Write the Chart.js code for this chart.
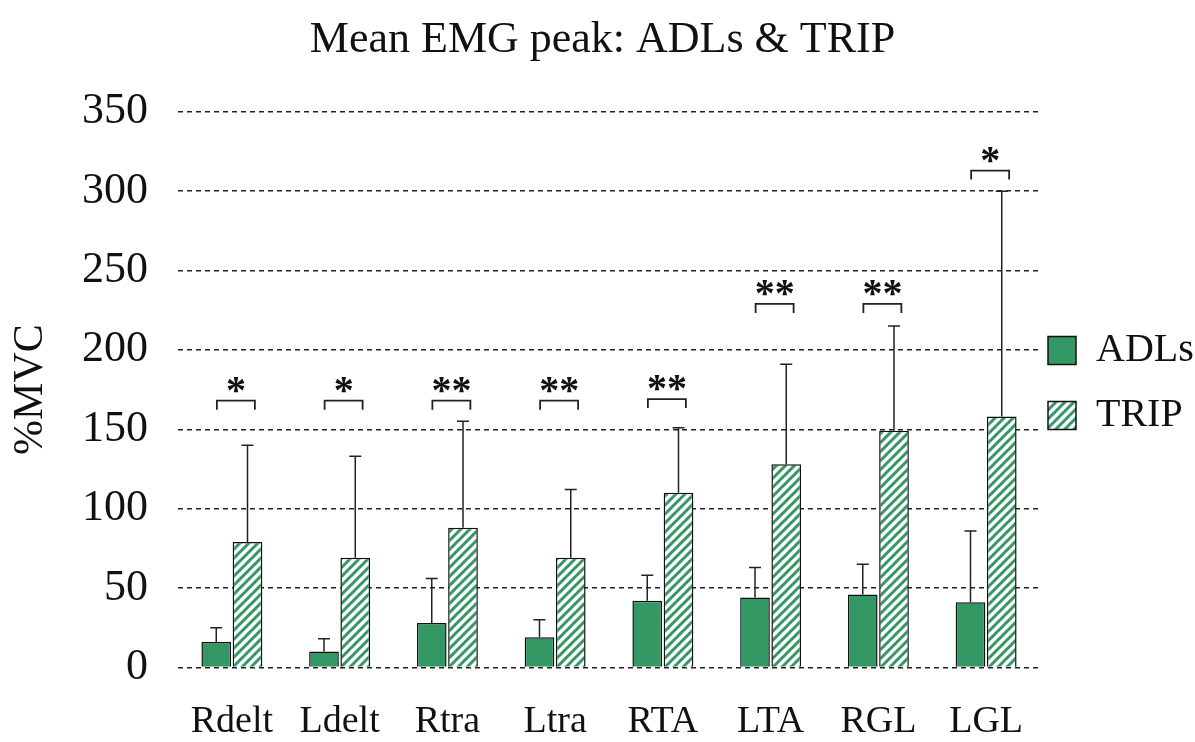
<!DOCTYPE html>
<html>
<head>
<meta charset="utf-8">
<script src="https://cdn.jsdelivr.net/npm/chart.js@4"></script>
<style>
  body { margin: 0; background: #fff; }
  #wrap { width: 1195px; height: 742px; }
</style>
</head>
<body>
<div id="wrap"><canvas id="myChart"></canvas></div>
<script>
// dati
var muscoli = ['Rdelt', 'Ldelt', 'Rtra', 'Ltra', 'RTA', 'LTA', 'RGL', 'LGL'];
var adlsMedia = [16, 10, 28, 19, 42, 44, 46, 41];
var adlsDS = [9, 8, 28, 11, 16, 19, 19, 45];
var tripMedia = [79, 69, 88, 69, 110, 128, 149, 158];
var tripDS = [61, 64, 67, 43, 41, 63, 66, 142];
var asterischi = ['*', '*', '**', '**', '**', '**', '**', '*'];
var livelloParentesi = [168, 168, 168, 168, 169, 229, 229, 313];
var tickY = [0, 50, 100, 150, 200, 250, 300, 350];

var FONT = "'Liberation Serif', 'Times New Roman', serif";
var VERDE = '#349865';

// pattern a righe diagonali per TRIP
function tratteggio() {
  var n = 9;
  var c = document.createElement('canvas');
  c.width = n; c.height = n;
  var g = c.getContext('2d');
  g.fillStyle = '#fff';
  g.fillRect(0, 0, n, n);
  g.strokeStyle = VERDE;
  g.lineWidth = 3;
  g.beginPath();
  g.moveTo(-1, n + 1); g.lineTo(n + 1, -1);
  g.moveTo(-n, n); g.lineTo(n, -n);
  g.moveTo(0, 2 * n); g.lineTo(2 * n, 0);
  g.stroke();
  return g.createPattern(c, 'repeat');
}

// barre di errore (solo verso l'alto)
var erroriPlugin = {
  id: 'errori',
  afterDatasetsDraw: function(chart) {
    var ctx = chart.ctx;
    var y = chart.scales.y;
    var ds = [adlsDS, tripDS];
    var medie = [adlsMedia, tripMedia];
    ctx.save();
    ctx.strokeStyle = '#222';
    ctx.lineWidth = 1.5;
    for (var d = 0; d < 2; d++) {
      var meta = chart.getDatasetMeta(d);
      meta.data.forEach(function(bar, i) {
        var top = y.getPixelForValue(medie[d][i] + ds[d][i]);
        ctx.beginPath();
        ctx.moveTo(bar.x, bar.y);
        ctx.lineTo(bar.x, top);
        ctx.moveTo(bar.x - 6, top);
        ctx.lineTo(bar.x + 6, top);
        ctx.stroke();
      });
    }
    ctx.restore();
  }
};

// parentesi di significativita con asterischi
var parentesiPlugin = {
  id: 'parentesi',
  afterDatasetsDraw: function(chart) {
    var ctx = chart.ctx;
    var x = chart.scales.x;
    var y = chart.scales.y;
    ctx.save();
    ctx.strokeStyle = '#222';
    ctx.fillStyle = '#111';
    ctx.lineWidth = 1.8;
    ctx.font = 'bold 40px ' + FONT;
    ctx.textAlign = 'center';
    ctx.textBaseline = 'alphabetic';
    for (var i = 0; i < muscoli.length; i++) {
      var cx = x.getPixelForValue(i) + 4;
      var py = y.getPixelForValue(livelloParentesi[i]);
      ctx.beginPath();
      ctx.moveTo(cx - 19, py + 9);
      ctx.lineTo(cx - 19, py);
      ctx.lineTo(cx + 19, py);
      ctx.lineTo(cx + 19, py + 9);
      ctx.stroke();
      var m = ctx.measureText(asterischi[i]);
      var off = (m.actualBoundingBoxAscent - m.actualBoundingBoxDescent) / 2;
      ctx.fillText(asterischi[i], cx, py - 16 + off);
    }
    ctx.restore();
  }
};

var ctx = document.getElementById('myChart').getContext('2d');
var chart = new Chart(ctx, {
  type: 'bar',
  data: {
    labels: muscoli,
    datasets: [{
      label: 'ADLs',
      data: adlsMedia,
      backgroundColor: VERDE,
      borderColor: '#111',
      borderWidth: 1.5,
      categoryPercentage: 0.58,
      barPercentage: 0.95
    }, {
      label: 'TRIP',
      data: tripMedia,
      backgroundColor: tratteggio(),
      borderColor: '#111',
      borderWidth: 1.5,
      categoryPercentage: 0.58,
      barPercentage: 0.95
    }]
  },
  options: {
    responsive: true,
    maintainAspectRatio: false,
    animation: false,
    layout: { padding: { top: 14, right: 0, left: 10, bottom: -27 } },
    plugins: {
      title: {
        display: true,
        text: 'Mean EMG peak: ADLs & TRIP',
        color: '#111',
        font: { family: FONT, size: 44, weight: 'normal' },
        padding: { top: 0, bottom: 45 }
      },
      legend: {
        position: 'right',
        maxWidth: 155,
        labels: {
          color: '#111',
          font: { family: FONT, size: 40, lineHeight: 1.425 },
          boxWidth: 28,
          boxHeight: 28,
          padding: 8,
          generateLabels: function(chart) {
            var items = Chart.defaults.plugins.legend.labels.generateLabels(chart);
            items.forEach(function(it) { it.text = [it.text]; });
            return items;
          }
        }
      },
      tooltip: { enabled: false }
    },
    scales: {
      x: {
        grid: { display: false },
        border: { display: false },
        ticks: {
          color: '#111',
          font: { family: FONT, size: 38 },
          padding: 24
        }
      },
      y: {
        min: 0,
        max: 350,
        afterBuildTicks: function(scale) {
          scale.ticks = tickY.map(function(v) { return { value: v }; });
        },
        grid: { color: '#222', lineWidth: 1.4, drawTicks: false },
        border: { display: false, dash: [5, 4] },
        ticks: {
          color: '#111',
          font: { family: FONT, size: 44 },
          padding: 30
        },
        title: {
          display: true,
          text: '%MVC',
          color: '#111',
          font: { family: FONT, size: 42, lineHeight: 1 },
          padding: { top: 0, bottom: 0 }
        }
      }
    }
  },
  plugins: [erroriPlugin, parentesiPlugin]
});
</script>
</body>
</html>
